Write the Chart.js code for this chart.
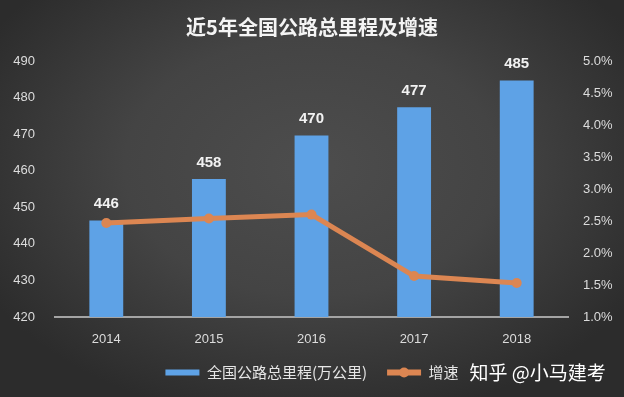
<!DOCTYPE html>
<html>
<head>
<meta charset="utf-8">
<script src="https://cdn.jsdelivr.net/npm/chart.js@4/dist/chart.umd.min.js"></script>
<style>
  html, body { margin: 0; padding: 0; }
  body {
    width: 624px; height: 397px; overflow: hidden;
    background: radial-gradient(ellipse 60% 65% at 50% 42%, #4d4d4d 0%, #444 50%, #2c2c2c 100%);
  }
  #wrap { position: relative; width: 624px; height: 397px; }
  canvas { display: block; }
</style>
</head>
<body>
<div id="wrap"><canvas id="chartJalan" width="624" height="397"></canvas></div>
<script>
// data grafik
const tahun = ['2014', '2015', '2016', '2017', '2018'];
const totalJarak = [446.39, 457.73, 469.63, 477.35, 484.65];   // 万公里
const lajuTumbuh = [2.47, 2.54, 2.60, 1.64, 1.53];             // %

const warnaBatang = '#5ea2e6';
const warnaGaris = '#dc8652';
const warnaTeks = '#dcdcdc';
const fontAngka = '"Liberation Sans", Arial, sans-serif';
const fontCJK = '"Noto Sans CJK SC", sans-serif';

// label angka di atas batang + penanda legend + watermark
const pluginLabel = {
  id: 'pluginLabel',
  afterDatasetsDraw(chart) {
    const ctx = chart.ctx;
    const meta = chart.getDatasetMeta(1);
    ctx.save();
    ctx.fillStyle = '#f2f2f2';
    ctx.font = 'bold 15px ' + fontAngka;
    ctx.textAlign = 'center';
    ctx.textBaseline = 'bottom';
    meta.data.forEach((bar, i) => {
      ctx.fillText(Math.round(totalJarak[i]), bar.x, bar.y - 9);
    });
    ctx.restore();
  },
  afterDraw(chart) {
    const ctx = chart.ctx;
    const boxes = chart.legend.legendHitBoxes;
    if (!boxes || boxes.length < 2) return;
    const b = boxes[1];
    const cy = b.top + b.height / 2;
    ctx.save();
    ctx.fillStyle = warnaGaris;
    ctx.beginPath();
    ctx.arc(b.left + 17, cy, 5, 0, Math.PI * 2);
    ctx.fill();
    // watermark
    ctx.fillStyle = '#ffffff';
    ctx.font = '19px ' + fontCJK;
    ctx.textAlign = 'left';
    ctx.textBaseline = 'middle';
    ctx.fillText('知乎 @小马建考', b.left + b.width + 11, cy);
    ctx.restore();
  }
};

const bawaanLegend = Chart.defaults.plugins.legend.labels.generateLabels;

const ctx = document.getElementById('chartJalan').getContext('2d');
new Chart(ctx, {
  data: {
    labels: tahun,
    datasets: [
      {
        type: 'line',
        label: '增速',
        data: lajuTumbuh,
        yAxisID: 'y1',
        borderColor: warnaGaris,
        backgroundColor: warnaGaris,
        borderWidth: 5,
        pointRadius: 5,
        pointBackgroundColor: warnaGaris,
        pointBorderWidth: 0,
        tension: 0,
        order: 0
      },
      {
        type: 'bar',
        label: '全国公路总里程(万公里)',
        data: totalJarak,
        yAxisID: 'y',
        backgroundColor: warnaBatang,
        categoryPercentage: 1,
        barPercentage: 0.33,
        order: 1
      }
    ]
  },
  options: {
    responsive: false,
    animation: false,
    layout: { padding: { left: 0, right: 0, top: 0, bottom: 7 } },
    plugins: {
      title: {
        display: true,
        text: '近5年全国公路总里程及增速',
        color: '#f4f4f4',
        font: { family: fontCJK, size: 20, weight: 'bold' },
        padding: { top: 15, bottom: 22 }
      },
      legend: {
        position: 'bottom',
        reverse: true,
        labels: {
          color: '#e6e6e6',
          font: { family: fontCJK, size: 15 },
          boxWidth: 34,
          boxHeight: 6,
          padding: 20,
          generateLabels(chart) {
            return bawaanLegend(chart).map(item => Object.assign(item, { lineWidth: 0 }));
          }
        }
      },
      tooltip: { enabled: false }
    },
    scales: {
      x: {
        grid: { display: false, drawTicks: false },
        border: { color: '#a4a4a4', width: 2 },
        ticks: { color: warnaTeks, font: { family: fontAngka, size: 13 }, padding: 15 },
        afterFit(s) { s.height = 28; }
      },
      y: {
        position: 'left',
        min: 420, max: 490,
        grid: { display: false, drawTicks: false },
        border: { display: false },
        ticks: { stepSize: 10, color: warnaTeks, font: { family: fontAngka, size: 13 }, padding: 20 },
        afterFit(s) { s.width = 55; }
      },
      y1: {
        position: 'right',
        min: 1.0, max: 5.0,
        grid: { display: false, drawTicks: false },
        border: { display: false },
        ticks: {
          stepSize: 0.5, color: warnaTeks, font: { family: fontAngka, size: 13 }, padding: 15,
          callback: v => v.toFixed(1) + '%'
        },
        afterFit(s) { s.width = 56; }
      }
    }
  },
  plugins: [pluginLabel]
});
</script>
</body>
</html>
